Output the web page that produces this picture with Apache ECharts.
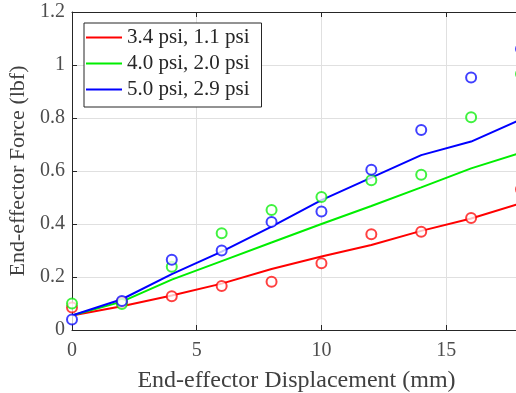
<!DOCTYPE html>
<html><head><meta charset="utf-8">
<script src="https://cdn.jsdelivr.net/npm/echarts@6/dist/echarts.min.js"></script>
<style>html,body{margin:0;padding:0;background:#fff;overflow:hidden;width:516px;height:393px}#c{width:521px;height:393px}</style>
</head><body><div id="c"></div>
<script>
const xs = [0, 2, 4, 6, 8, 10, 12, 14, 16, 18];
const seriesNames = ['3.4 psi, 1.1 psi', '4.0 psi, 2.0 psi', '5.0 psi, 2.9 psi'];
const colors = ['#ff0000', '#00ee00', '#0000ff'];
const fitRed   = [0.055, 0.09, 0.13, 0.175, 0.23, 0.277, 0.321, 0.374, 0.421, 0.478];
const fitGreen = [0.055, 0.107, 0.19, 0.26, 0.33, 0.40, 0.468, 0.538, 0.61, 0.669];
const fitBlue  = [0.055, 0.116, 0.211, 0.296, 0.39, 0.49, 0.575, 0.66, 0.711, 0.795];
const measRed   = [0.085, 0.105, 0.127, 0.166, 0.182, 0.252, 0.361, 0.371, 0.423, 0.531];
const measGreen = [0.10, 0.098, 0.239, 0.365, 0.453, 0.502, 0.565, 0.586, 0.803, 0.966];
const measBlue  = [0.04, 0.109, 0.265, 0.30, 0.408, 0.447, 0.605, 0.755, 0.953, 1.06];
const yTicks = ['0', '0.2', '0.4', '0.6', '0.8', '1', '1.2'];

const fits = [fitRed, fitGreen, fitBlue];
const meas = [measRed, measGreen, measBlue];
const pair = arr => xs.map((x, i) => [x, arr[i]]);
const font = 'Liberation Serif';
const series = [];
fits.forEach((f, i) => series.push({
  name: seriesNames[i], type: 'line', data: pair(f), symbol: 'none',
  lineStyle: {color: colors[i], width: 2}, itemStyle: {color: colors[i]}, z: 3
}));
meas.forEach((m, i) => series.push({
  name: 'm' + i, type: 'scatter', data: pair(m), symbol: 'emptyCircle', symbolSize: 10,
  itemStyle: {color: colors[i], borderColor: colors[i], borderWidth: 1.3, opacity: 0.75}, z: 4
}));

const chart = echarts.init(document.getElementById('c'), null, {renderer: 'canvas'});
chart.setOption({
  animation: false,
  backgroundColor: '#fff',
  grid: {left: 72, top: 12, right: 0, bottom: 63, show: false, containLabel: false, outerBoundsMode: 'none'},
  legend: {
    data: seriesNames.map(n => ({name: n, icon: 'rect'})), orient: 'vertical', left: 84, top: 23,
    backgroundColor: '#fff', borderColor: '#262626', borderWidth: 1,
    padding: [4, 12, 7, 2], itemWidth: 36, itemHeight: 2, itemGap: 5, itemTextGap: 6,
    textStyle: {fontFamily: font, fontSize: 21, color: '#262626', lineHeight: 21}
  },
  xAxis: [{
    type: 'value', min: 0, max: 18, interval: 5,
    name: 'End-effector Displacement (mm)', nameLocation: 'middle', nameGap: 39,
    nameTextStyle: {fontFamily: font, fontSize: 24, color: '#404040'},
    axisLine: {show: true, onZero: false, lineStyle: {color: '#262626', width: 1}},
    axisTick: {show: true, inside: true, length: 5, lineStyle: {color: '#262626'}},
    axisLabel: {fontFamily: font, fontSize: 20, color: '#4d4d4d', margin: 11, showMaxLabel: false},
    splitLine: {show: true, lineStyle: {color: '#e0e0e0', width: 1}}
  }, {
    type: 'value', position: 'top', min: 0, max: 18, interval: 5,
    axisLine: {show: true, onZero: false, lineStyle: {color: '#262626', width: 1}},
    axisTick: {show: true, inside: true, length: 5, lineStyle: {color: '#262626'}},
    axisLabel: {show: false}, splitLine: {show: false}
  }],
  yAxis: {
    type: 'value', min: 0, max: 1.2, interval: 0.2,
    name: 'End-effector Force (lbf)', nameLocation: 'middle', nameGap: 40,
    nameTextStyle: {fontFamily: font, fontSize: 22, color: '#404040'},
    axisLine: {show: true, onZero: false, lineStyle: {color: '#262626', width: 1}},
    axisTick: {show: true, inside: true, length: 5, lineStyle: {color: '#262626'}},
    axisLabel: {fontFamily: font, fontSize: 20, color: '#4d4d4d', margin: 7,
      formatter: v => yTicks[Math.round(v / 0.2)]},
    splitLine: {show: true, lineStyle: {color: '#e0e0e0', width: 1}}
  },
  series: series
});
</script></body></html>
